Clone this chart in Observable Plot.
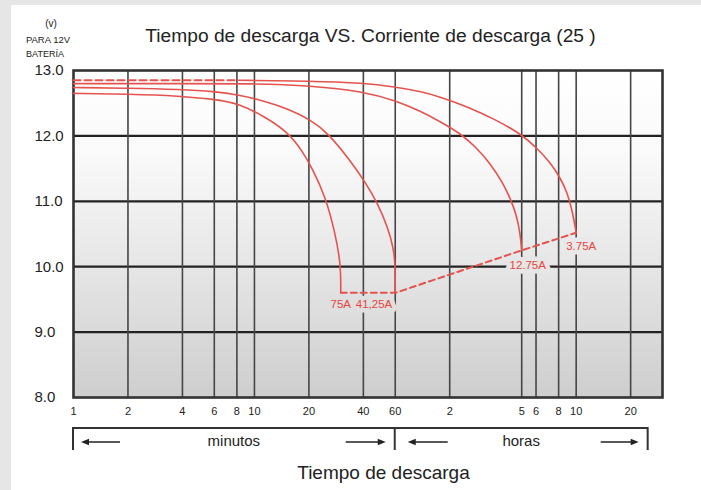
<!DOCTYPE html>
<html><head><meta charset="utf-8">
<script src="https://cdn.jsdelivr.net/npm/d3@7"></script>
<script src="https://cdn.jsdelivr.net/npm/@observablehq/plot@0.6"></script>
<style>
html,body{margin:0;padding:0;background:#e6e6e6;width:701px;height:490px;overflow:hidden;font-family:"Liberation Sans",Arial,sans-serif;}
#card{position:absolute;left:11px;top:5px;width:690px;height:485px;background:#fff;}
</style></head><body><div id="card"></div>
<script>
// ---- data ----
const tickMinutes = [1, 2, 4, 6, 8, 10, 20, 40, 60, 120, 300, 360, 480, 600, 1200];
const tickLabels  = ["1","2","4","6","8","10","20","40","60","2","5","6","8","10","20"];
const voltTicks   = [8, 9, 10, 11, 12, 13];
const seriesNames = ["75A", "41,25A", "12.75A", "3.75A"];

const t75 = [1, 2, 3.9, 6, 8.1, 11.5, 15.4, 18.4, 20.9, 24.7, 27.9, 30, 30];
const v75 = [12.65, 12.64, 12.61, 12.56, 12.50, 12.29, 12.05, 11.77, 11.50, 11.07, 10.52, 10.05, 9.6];

const t41 = [1, 2, 3.9, 6, 8.1, 11.5, 15.4, 20.4, 25.6, 33.9, 41.0, 47.8, 55.0, 58.6, 60, 60];
const v41 = [12.74, 12.73, 12.71, 12.68, 12.63, 12.53, 12.41, 12.25, 12.04, 11.62, 11.29, 10.98, 10.58, 10.28, 10.05, 9.6];

const t12 = [1, 3.9, 10, 20.4, 40, 60, 82.7, 106, 137, 166, 201, 235, 260, 280, 294, 300];
const v12 = [12.80, 12.80, 12.80, 12.77, 12.68, 12.54, 12.38, 12.22, 12.04, 11.84, 11.58, 11.29, 11.04, 10.80, 10.52, 10.25];

const t3 = [8.1, 20.4, 40, 60, 82.7, 106, 156, 214, 294, 366, 432, 490, 536, 571, 600];
const v3 = [12.85, 12.84, 12.81, 12.75, 12.68, 12.60, 12.43, 12.25, 12.04, 11.81, 11.59, 11.36, 11.13, 10.86, 10.52];

const t3dash = [1, 8.1];
const v3dash = [12.85, 12.85];

const tEnd = [30, 60, 300, 600];
const vEnd = [9.6, 9.6, 10.25, 10.52];

const bracketMinutes = [1, 60, 1500];
const spanLabels = ["minutos", "horas"];

// ---- tables ----
const curves = [[t75, v75], [t41, v41], [t12, v12], [t3, v3]]
  .flatMap(([ts, vs], k) => ts.map((t, i) => ({s: seriesNames[k], t, v: vs[i]})));
const dashTop = t3dash.map((t, i) => ({t, v: v3dash[i]}));
const endLine = tEnd.map((t, i) => ({t, v: vEnd[i], label: seriesNames[i]}));
const xTickTable = tickMinutes.map((t, i) => ({t, label: tickLabels[i]}));

// ---- styles ----
const RED = "#e5534f";
const LRED = "#e8453c";
const gradStops = [[0, "#ffffff"], [0.25, "#fafafa"], [0.6, "#e6e6e6"], [1, "#cecece"]];
const bgAt = d3.scaleLinear().domain(gradStops.map(d => d[0])).range(gradStops.map(d => d[1])).clamp(true);
const frameH = 327; // px height of the frame (65 + 327 + 93 = 485)

const labelOpts = [
  {dx: 0, dy: 11, textAnchor: "middle"},
  {dx: -3, dy: 11, textAnchor: "end"},
  {dx: 6, dy: 15, textAnchor: "middle"},
  {dx: 5, dy: 14, textAnchor: "middle"}
];

const chart = Plot.plot({
  width: 690, height: 485,
  marginLeft: 62, marginRight: 39, marginTop: 65, marginBottom: 93,
  style: {fontFamily: "Liberation Sans, Arial, sans-serif", fontSize: "11px", color: "#222", background: "transparent"},
  x: {type: "log", domain: [1, 1800], axis: null},
  y: {domain: [8, 13]},
  marks: [
    Plot.gridY({ticks: voltTicks.slice(1, -1), stroke: "#222", strokeOpacity: 1, strokeWidth: 2.2}),
    Plot.gridX({ticks: tickMinutes.slice(1), stroke: "#454545", strokeOpacity: 1, strokeWidth: 1.6}),
    ...labelOpts.map((o, i) => Plot.text([endLine[i]], {
      x: "t", y: "v", text: "label", fill: LRED, fontSize: 11.5,
      stroke: bgAt((13 - endLine[i].v) / 5 + o.dy / frameH),
      strokeWidth: 9, strokeLinejoin: "round", paintOrder: "stroke", ...o
    })),
    Plot.frame({stroke: "#333", strokeWidth: 2.6}),
    Plot.line(curves, {x: "t", y: "v", z: "s", stroke: RED, strokeWidth: 1.6, curve: "basis"}),
    Plot.line(dashTop, {x: "t", y: "v", stroke: RED, strokeWidth: 2, strokeDasharray: "7,4"}),
    Plot.line(endLine, {x: "t", y: "v", stroke: RED, strokeWidth: 2, strokeDasharray: "6,4"}),
    Plot.text(xTickTable, {x: "t", text: "label", frameAnchor: "bottom", dy: 17, fontSize: 11, fill: "#222"}),
    Plot.axisY({ticks: voltTicks, tickFormat: d => d.toFixed(1), tickSize: 0, tickPadding: 0,
      textAnchor: "start", dx: -39, fontSize: 15, fill: "#222", label: null})
  ]
});
document.getElementById("card").appendChild(chart);

// ---- decorations using Plot's scales ----
(function () {
  const svg = d3.select(chart);
  const sx = chart.scale("x"), sy = chart.scale("y");
  const X = v => sx.apply(v), Y = v => sy.apply(v);
  const fL = X(1), fR = X(1800), fT = Y(13), fB = Y(8);

  const defs = svg.insert("defs", ":first-child");
  const grad = defs.append("linearGradient").attr("id", "bgGrad")
    .attr("x1", 0).attr("y1", 0).attr("x2", 0).attr("y2", 1);
  gradStops.forEach(([o, c]) => grad.append("stop").attr("offset", o).attr("stop-color", c));
  svg.insert("rect", "g").attr("x", fL).attr("y", fT).attr("width", fR - fL).attr("height", fB - fT).attr("fill", "url(#bgGrad)");

  const txt = (x, y, s, size, anchor = "middle") => svg.append("text")
    .attr("x", x).attr("y", y).attr("text-anchor", anchor)
    .attr("font-size", size).attr("fill", "#222")
    .attr("font-family", "Liberation Sans, Arial, sans-serif").text(s);

  txt((fL + fR) / 2 + 3, 37, "Tiempo de descarga VS. Corriente de descarga (25 )", 19.2);
  txt(40, 22, "(v)", 10);
  txt(37, 38, "PARA 12V", 9.5);
  txt(34, 52, "BATERÍA", 9);
  txt((fL + fR) / 2 + 16, 474, "Tiempo de descarga", 19);

  // bracket
  const bx = bracketMinutes.map(X);
  const by = fB + 31, byEnd = fB + 53, ay = fB + 45;
  const g = svg.append("g").attr("stroke", "#333").attr("stroke-width", 2).attr("fill", "none");
  g.append("path").attr("d", `M${bx[0]},${byEnd}V${by}H${bx[2]}V${byEnd}`);
  g.append("line").attr("x1", bx[1]).attr("x2", bx[1]).attr("y1", by).attr("y2", byEnd);
  txt((bx[0] + bx[1]) / 2, by + 18, spanLabels[0], 15);
  txt((bx[1] + bx[2]) / 2, by + 18, spanLabels[1], 15);

  function arrow(xTail, xHead) {
    const dir = Math.sign(xHead - xTail);
    svg.append("line").attr("x1", xTail).attr("x2", xHead - dir * 6).attr("y1", ay).attr("y2", ay)
      .attr("stroke", "#222").attr("stroke-width", 1.5);
    svg.append("path").attr("d", `M${xHead},${ay}L${xHead - dir * 8},${ay - 3.2}L${xHead - dir * 8},${ay + 3.2}Z`).attr("fill", "#222");
  }
  arrow(bx[0] + 47, bx[0] + 8);
  arrow(bx[1] - 49, bx[1] - 9);
  arrow(bx[1] + 53, bx[1] + 13);
  arrow(bx[2] - 47, bx[2] - 9);
})();
</script></body></html>
